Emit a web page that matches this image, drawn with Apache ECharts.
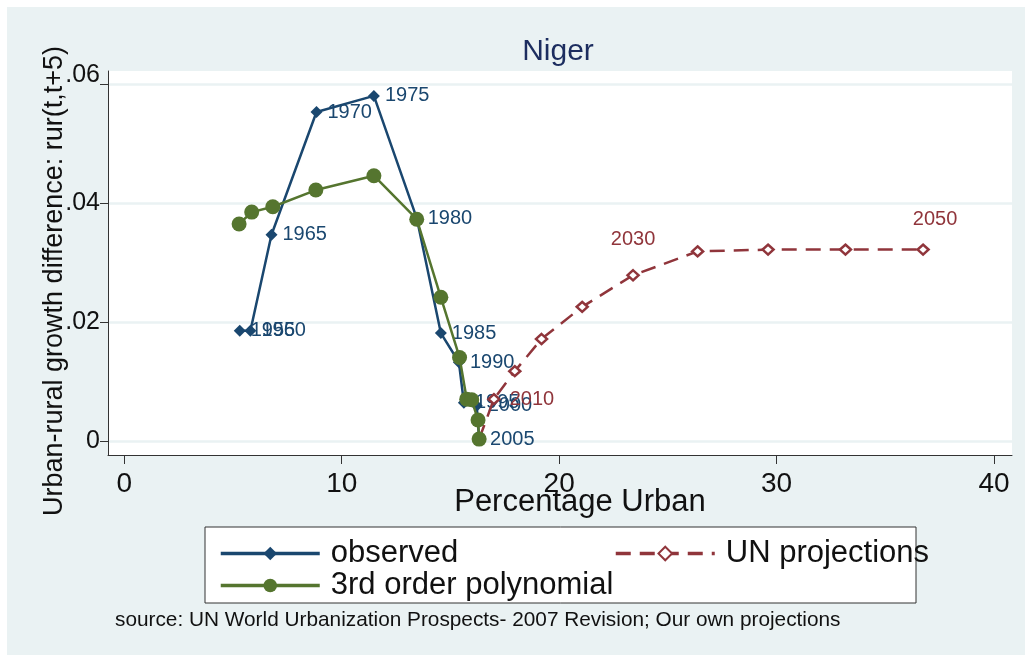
<!DOCTYPE html>
<html><head><meta charset="utf-8">
<script src="https://cdn.jsdelivr.net/npm/echarts@6/dist/echarts.min.js"></script>
<style>html,body{margin:0;padding:0;background:#fff}#c{width:1025px;height:657px}</style>
</head><body><div id="c"></div>
<script>
// ---- data ----
const obsYears = [1955, 1960, 1965, 1970, 1975, 1980, 1985, 1990, 1995, 2000, 2005];
const obsX = [5.31, 5.80, 6.77, 8.84, 11.48, 13.45, 14.56, 15.39, 15.62, 16.21, 16.32];
const obsY = [0.0186, 0.0186, 0.0347, 0.0553, 0.0580, 0.0375, 0.0182, 0.0133, 0.0065, 0.0060, 0.0004];

const polyX = [5.28, 5.86, 6.83, 8.81, 11.48, 13.45, 14.56, 15.42, 15.75, 15.98, 16.27, 16.32];
const polyY = [0.0365, 0.0385, 0.0394, 0.0422, 0.0446, 0.0373, 0.0242, 0.0141, 0.0071, 0.0070, 0.0036, 0.0004];

const projYears = [2005, 2010, 2015, 2020, 2025, 2030, 2035, 2040, 2045, 2050];
const projX = [16.32, 17.00, 17.96, 19.19, 21.06, 23.40, 26.37, 29.61, 33.17, 36.74];
const projY = [0.0004, 0.0071, 0.0118, 0.0172, 0.0226, 0.0279, 0.0319, 0.0322, 0.0322, 0.0322];
const projLabelled = [2010, 2030, 2050];

const xTicks = [0, 10, 20, 30, 40];
const yTicks = [0, 0.02, 0.04, 0.06];

const FONT = '"Liberation Sans", Arial, Helvetica, sans-serif';
const NAVY = '#1A476F', GREEN = '#55752F', MAROON = '#90353B', BG = '#EAF2F3';

const chart = echarts.init(document.getElementById('c'), null, {renderer: 'canvas'});

const projData = projX.map((x, i) => {
  const yr = projYears[i];
  const item = {value: [x, projY[i]]};
  if (projLabelled.includes(yr)) {
    item.label = yr === 2010
      ? {show: true, position: 'right', distance: 9}
      : (yr === 2030 ? {show: true, position: 'top', distance: 20}
                     : {show: true, position: 'top', distance: 14, offset: [12, 0]});
  }
  return item;
});

const legendText = {fontSize: 31, color: '#111', lineHeight: 30, padding: [0, 0, 0, 6], fontFamily: FONT};

const option = {
  backgroundColor: BG,
  animation: false,
  textStyle: {fontFamily: FONT},
  title: {
    text: 'Niger', left: 553, top: 32, textAlign: 'center',
    textStyle: {fontSize: 30, fontWeight: 'normal', color: '#1c2d5f', fontFamily: FONT}
  },
  grid: {left: 108, top: 71, right: 13, bottom: 202, show: true, backgroundColor: '#fff', borderWidth: 0, containLabel: false},
  xAxis: {
    type: 'value', min: -0.75, max: 40.83,
    axisLine: {show: true, onZero: false, lineStyle: {color: '#333', width: 1}},
    axisTick: {show: true, length: 9, customValues: xTicks, lineStyle: {color: '#333'}},
    axisLabel: {customValues: xTicks, fontSize: 28, color: '#111', margin: 15, fontFamily: FONT},
    splitLine: {show: false}
  },
  yAxis: {
    type: 'value', min: -0.00227, max: 0.06218,
    axisLine: {show: true, onZero: false, lineStyle: {color: '#333', width: 1}},
    axisTick: {show: true, length: 8, customValues: yTicks, lineStyle: {color: '#333'}},
    axisLabel: {
      customValues: yTicks, fontSize: 25, color: '#111', margin: 8, fontFamily: FONT,
      formatter: v => {
        const s = (v === 0 ? '0' : String(+v.toFixed(2)).replace(/^0/, ''));
        return v > 0.05 ? '{up|' + s + '}' : s;
      },
      rich: {up: {fontSize: 25, color: '#111', fontFamily: FONT, padding: [0, 0, 18, 0]}}
    },
    splitLine: {show: true, lineStyle: {color: BG, width: 2.5}}
  },
  legend: [
    {
      data: ['observed', '3rd order polynomial'], orient: 'vertical', left: 214, top: 533,
      itemWidth: 99, itemHeight: 17, itemGap: 1,
      lineStyle: {width: 3.5},
      textStyle: legendText
    },
    {
      data: ['UN projections'], orient: 'vertical', left: 609, top: 533,
      itemWidth: 99, itemHeight: 17,
      lineStyle: {width: 3.5},
      textStyle: legendText
    }
  ],
  series: [
    {
      name: 'observed', type: 'line', z: 2,
      data: obsX.map((x, i) => [x, obsY[i]]),
      symbol: 'diamond', symbolSize: 12,
      lineStyle: {color: NAVY, width: 2.5},
      itemStyle: {color: NAVY},
      label: {show: true, position: 'right', distance: 5, color: NAVY, fontSize: 20, fontFamily: FONT,
              formatter: p => String(obsYears[p.dataIndex])},
      emphasis: {disabled: true}
    },
    {
      name: 'UN projections', type: 'line', z: 3,
      data: projData,
      symbol: 'diamond', symbolSize: [11, 10], showAllSymbol: true,
      lineStyle: {color: MAROON, width: 2.5, type: [15, 9]},
      itemStyle: {color: '#fff', borderColor: MAROON, borderWidth: 2.5},
      label: {show: false, color: MAROON, fontSize: 20, fontFamily: FONT,
              formatter: p => String(projYears[p.dataIndex])},
      emphasis: {disabled: true}
    },
    {
      name: '3rd order polynomial', type: 'line', z: 4,
      data: polyX.map((x, i) => [x, polyY[i]]),
      symbol: 'circle', symbolSize: 15, showAllSymbol: true,
      lineStyle: {color: GREEN, width: 2.5},
      itemStyle: {color: GREEN},
      emphasis: {disabled: true}
    }
  ],
  graphic: [
    {type: 'rect', shape: {x: 0, y: 0, width: 1025, height: 7}, style: {fill: '#fff'}, silent: true},
    {type: 'rect', shape: {x: 0, y: 0, width: 7, height: 657}, style: {fill: '#fff'}, silent: true},
    {type: 'rect', shape: {x: 0, y: 655, width: 1025, height: 2}, style: {fill: '#fff'}, silent: true},
    {type: 'rect', z: 1, shape: {x: 205, y: 527, width: 711, height: 76},
     style: {fill: '#fff', stroke: '#333', lineWidth: 1}, silent: true},
    {type: 'text', x: 115, y: 620, style: {text: 'source: UN World Urbanization Prospects- 2007 Revision; Our own projections',
      font: '20.8px ' + FONT, fill: '#111', verticalAlign: 'middle', align: 'left'}, silent: true},
    {type: 'text', x: 580, y: 502, style: {text: 'Percentage Urban', font: '31px ' + FONT, fill: '#111',
      verticalAlign: 'middle', align: 'center'}, silent: true},
    {type: 'text', x: 55, y: 281, rotation: Math.PI / 2, style: {text: 'Urban-rural growth difference: rur(t,t+5)',
      font: '27px ' + FONT, fill: '#111', verticalAlign: 'middle', align: 'center'}, silent: true}
  ]
};
chart.setOption(option);
</script></body></html>
